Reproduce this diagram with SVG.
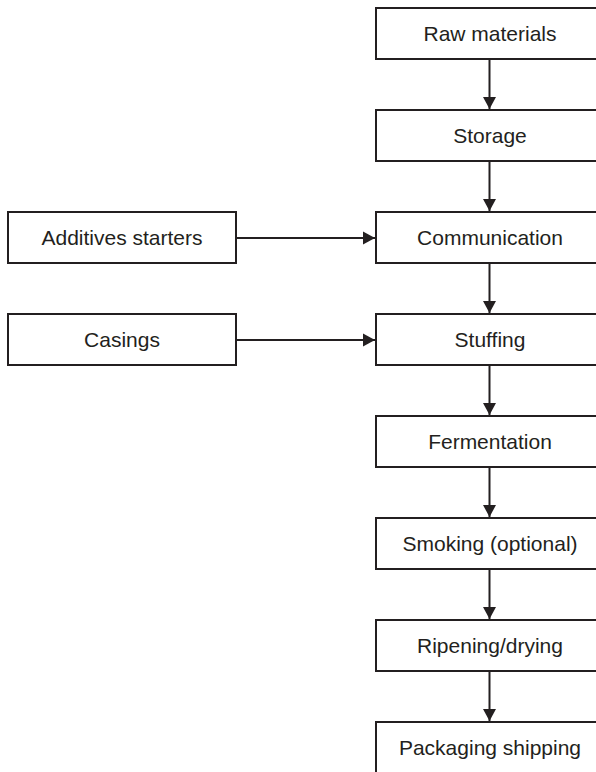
<svg xmlns="http://www.w3.org/2000/svg" width="596" height="772" viewBox="0 0 596 772">
<defs>
<style>
.box{fill:#fff;stroke:#231f20;stroke-width:2}
.lbl{font-family:"Liberation Sans",Arial,sans-serif;font-size:21px;fill:#231f20;text-anchor:middle}
.conn{stroke:#231f20;stroke-width:2;fill:none}
</style>
<marker id="ah" markerUnits="userSpaceOnUse" markerWidth="13" markerHeight="14" refX="12" refY="7" orient="auto">
<path d="M0,0.5 L12,7 L0,13.5 z" fill="#231f20"/>
</marker>
</defs>
<rect width="596" height="772" fill="#fff"/>
<g id="raw"><rect class="box" x="376" y="8" width="228" height="51"/><text class="lbl" x="490" y="41">Raw materials</text></g>
<g id="storage"><rect class="box" x="376" y="110" width="228" height="51"/><text class="lbl" x="490" y="143">Storage</text></g>
<g id="communication"><rect class="box" x="376" y="212" width="228" height="51"/><text class="lbl" x="490" y="245">Communication</text></g>
<g id="stuffing"><rect class="box" x="376" y="314" width="228" height="51"/><text class="lbl" x="490" y="347">Stuffing</text></g>
<g id="fermentation"><rect class="box" x="376" y="416" width="228" height="51"/><text class="lbl" x="490" y="449">Fermentation</text></g>
<g id="smoking"><rect class="box" x="376" y="518" width="228" height="51"/><text class="lbl" x="490" y="551">Smoking (optional)</text></g>
<g id="ripening"><rect class="box" x="376" y="620" width="228" height="51"/><text class="lbl" x="490" y="653">Ripening/drying</text></g>
<g id="packaging"><rect class="box" x="376" y="722" width="228" height="60"/><text class="lbl" x="490" y="755">Packaging shipping</text></g>
<g id="additives"><rect class="box" x="8" y="212" width="228" height="51"/><text class="lbl" x="122" y="245">Additives starters</text></g>
<g id="casings"><rect class="box" x="8" y="314" width="228" height="51"/><text class="lbl" x="122" y="347">Casings</text></g>
<g id="connectors">
<line class="conn" x1="489.5" y1="59" x2="489.5" y2="109" marker-end="url(#ah)"/>
<line class="conn" x1="489.5" y1="161" x2="489.5" y2="211" marker-end="url(#ah)"/>
<line class="conn" x1="489.5" y1="263" x2="489.5" y2="313" marker-end="url(#ah)"/>
<line class="conn" x1="489.5" y1="365" x2="489.5" y2="415" marker-end="url(#ah)"/>
<line class="conn" x1="489.5" y1="467" x2="489.5" y2="517" marker-end="url(#ah)"/>
<line class="conn" x1="489.5" y1="569" x2="489.5" y2="619" marker-end="url(#ah)"/>
<line class="conn" x1="489.5" y1="671" x2="489.5" y2="721" marker-end="url(#ah)"/>
<line class="conn" x1="236" y1="238" x2="375" y2="238" marker-end="url(#ah)"/>
<line class="conn" x1="236" y1="340" x2="375" y2="340" marker-end="url(#ah)"/>
</g>
</svg>
